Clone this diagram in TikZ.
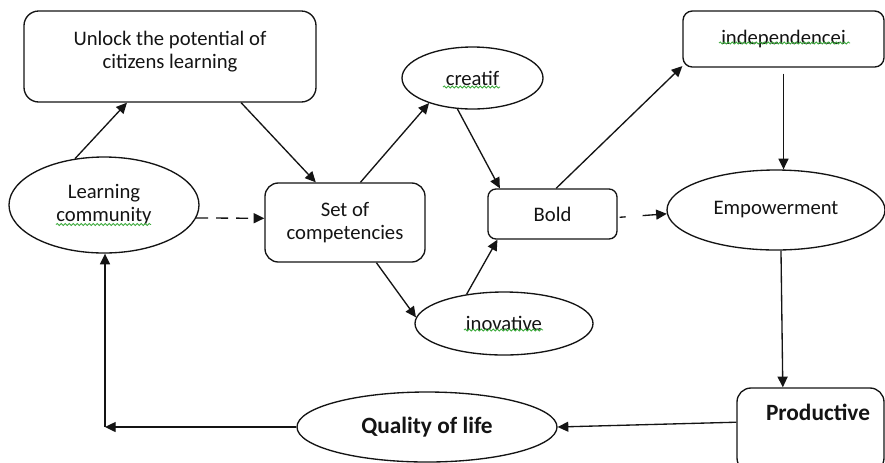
\documentclass[tikz,border=0pt]{standalone}
\usepackage{fontspec}
\setmainfont{Carlito}
\usetikzlibrary{arrows.meta,shapes.geometric,decorations.pathmorphing}
\definecolor{ink}{RGB}{20,20,20}
\definecolor{wavy}{RGB}{60,170,60}
\begin{document}
\begin{tikzpicture}[x=0.75pt,y=-0.75pt,
  sz/.style 2 args={minimum width=#1*0.75pt, minimum height=#2*0.75pt},
  shapebase/.style={draw=ink, line width=1pt, inner sep=0pt},
  box/.style={shapebase, rectangle},
  oval/.style={shapebase, ellipse},
  body/.style={font=\fontsize{15.5}{17.25}\selectfont, text=ink, align=center},
  heavy/.style={font=\fontsize{17.5}{19}\selectfont\bfseries, text=ink, align=center},
  link/.style={draw=ink, line width=1pt, -{Triangle[length=8pt,width=7.5pt]}},
  dashlink/.style={link, dash pattern=on 9pt off 6pt},
  squiggle/.style={draw=wavy, line width=0.6pt, decorate,
    decoration={snake, segment length=3pt, amplitude=0.8pt}}
]
\path[use as bounding box, fill=white] (0,0) rectangle (885,462);

% boxes and ovals
\node[box, sz={292}{91}, rounded corners=11pt] (unlock) at (170,56.5) {};
\node[body] (unlocktext) at (170,51.5) {Unlock the potential of\\citizens learning};
\node[oval, body, sz={190}{96}] (lc) at (104,205) {Learning\\community};
\node[box, body, sz={160}{79}, rounded corners=10pt] (set) at (345,222.5) {Set of\\competencies};
\node[oval, body, sz={141}{62}] (creatif) at (472.5,78) {creatif};
\node[box, body, sz={129}{50}, rounded corners=6pt] (bold) at (552.5,214) {Bold};
\node[box, body, sz={201}{56}, rounded corners=7pt] (indep) at (783.5,39) {independencei};
\node[oval, body, sz={218}{80}] (emp) at (776,210) {Empowerment};
\node[oval, body, sz={178}{63}] (inov) at (504,323.5) {inovative};
\node[box, sz={147}{84}, rounded corners=10.5pt] (prod) at (810.5,430) {};
\node[heavy] (prodtext) at (818,412) {Productive};
\node[oval, heavy, sz={260}{70}] (qol) at (427,427) {Quality of life};
\coordinate (turn) at (105,427);

% connectors
\draw[link] (lc.122) -- (unlock.227);
\draw[link] (unlock.327) -- (set.126);
\draw[dashlink] (lc.352) -- (set.177);
\draw[link] (set.69) -- (creatif.210);
\draw[link] (creatif.244) -- (bold.154);
\draw[link] (set.308) -- (inov.176);
\draw[link] (inov.142) -- (bold.205);
\draw[link] (bold.82) -- (indep.195);
\draw[link, shorten <=1.5pt, dash pattern=on 4.5pt off 12.75pt on 40pt off 1pt] (bold.357) -- (emp.182);
\draw[link, shorten <=4.5pt] (indep.south) -- (indep.south |- emp.north);
\draw[link] (emp.277) -- (prod.123);
\draw[link] (prod.174) -- (qol.east);
\draw[link] (qol.west) -- (turn);
\draw[link] (turn) -- (turn |- lc.south);

% wavy underlines
\draw[squiggle] (56,224.5) -- (151,224.5);
\draw[squiggle] (443,87) -- (500,87);
\draw[squiggle] (719,43) -- (850,43);
\draw[squiggle] (464,330) -- (543,330);
\end{tikzpicture}
\end{document}
